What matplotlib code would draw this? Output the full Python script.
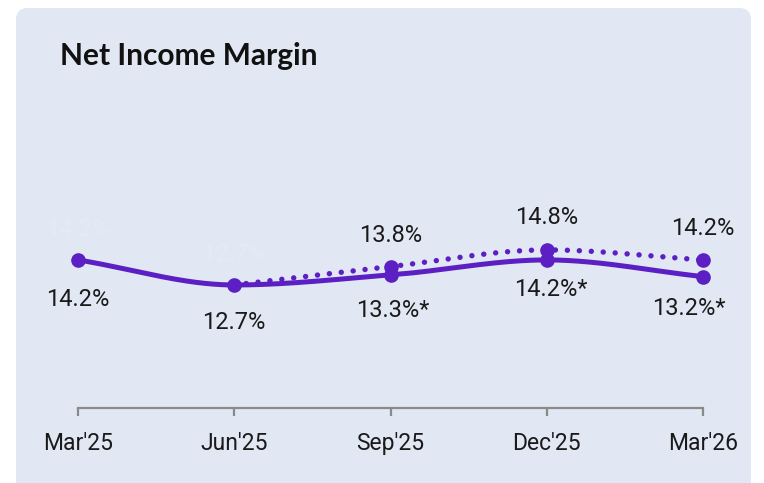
import numpy as np
import matplotlib
matplotlib.use("Agg")
import matplotlib.pyplot as plt
from matplotlib.patches import FancyBboxPatch

categories = ["Mar'25", "Jun'25", "Sep'25", "Dec'25", "Mar'26"]
actual = [14.2, 12.7, 13.3, 14.2, 13.2]
actual_labels = ["14.2%", "12.7%", "13.3%*", "14.2%*", "13.2%*"]
reported = [14.2, 12.7, 13.8, 14.8, 14.2]
reported_labels = ["14.2%", "12.7%", "13.8%", "14.8%", "14.2%"]
title = "Net Income Margin"

PURPLE = "#5B1FC4"
BG = "#E1E7F3"

W, H = 764, 483
fig = plt.figure(figsize=(W / 100, H / 100), dpi=100)
fig.patch.set_facecolor("white")

panel = FancyBboxPatch((16 / W, -0.1), (751 - 16) / W, 1.1 - 8 / H,
                       boxstyle="round,pad=0,rounding_size=0.015",
                       transform=fig.transFigure, facecolor=BG, edgecolor="none",
                       mutation_aspect=W / H, zorder=-10)
fig.patches.append(panel)

fig.text(60 / W, 1 - 56 / H, title, fontsize=21.5, fontweight="bold",
         family=["Lato", "DejaVu Sans"], color="#111111", va="center", ha="left",
         zorder=5)

# axes placement: x from 78 to 703 px, y from 100 to 408 px
ax = fig.add_axes([78 / W, 1 - 408 / H, (703 - 78) / W, (408 - 100) / H], zorder=2)
ax.set_facecolor("none")
ax.set_xlim(0, len(categories) - 1)
ax.set_ylim(5.33, 23.78)
ax.patch.set_alpha(0)


def monotone(xs, ys, n=200):
    xs = np.asarray(xs, float)
    ys = np.asarray(ys, float)
    h = np.diff(xs)
    d = np.diff(ys) / h
    m = np.zeros_like(ys)
    m[0], m[-1] = d[0], d[-1]
    for i in range(1, len(ys) - 1):
        if d[i - 1] * d[i] <= 0:
            m[i] = 0
        else:
            m[i] = 2 / (1 / d[i - 1] + 1 / d[i])
    X, Y = [], []
    for i in range(len(xs) - 1):
        t = np.linspace(0, 1, n)
        h00 = 2 * t**3 - 3 * t**2 + 1
        h10 = t**3 - 2 * t**2 + t
        h01 = -2 * t**3 + 3 * t**2
        h11 = t**3 - t**2
        X.append(xs[i] + t * h[i])
        Y.append(h00 * ys[i] + h10 * h[i] * m[i] + h01 * ys[i + 1] + h11 * h[i] * m[i + 1])
    return np.concatenate(X), np.concatenate(Y)


x = np.arange(len(categories))

# reported (dotted) series, drawn beneath
rx, ry = monotone(x[1:], reported[1:])
ax.plot(rx, ry, color=PURPLE, lw=3.9, linestyle=(0, (0.01, 2.2)),
        dash_capstyle="round", solid_capstyle="round", zorder=2, clip_on=False)
ax.plot(x[2:], reported[2:], "o", color=PURPLE, ms=9.5, zorder=3, clip_on=False)

# actual (solid) series
sx, sy = monotone(x, actual)
ax.plot(sx, sy, color=PURPLE, lw=3.6, solid_capstyle="round", zorder=4, clip_on=False)
ax.plot(x, actual, "o", color=PURPLE, ms=9.5, zorder=5, clip_on=False)

lab_font = dict(fontsize=17, family=["Roboto", "DejaVu Sans"], color="#1a1a1a")
below_off = [-40, -38, -36, -30, -32]
below_dx = [0, 0, 2, 4, -14]
for i, (v, t) in enumerate(zip(actual, actual_labels)):
    ax.annotate(t, (i, v), xytext=(below_dx[i], below_off[i]), textcoords="offset pixels",
                ha="center", va="center", **lab_font)

above_off = [30, 30, 31, 32, 31]
for i, (v, t) in enumerate(zip(reported, reported_labels)):
    kw = dict(lab_font)
    if i < 2:
        kw["color"] = "#E4EAF6"
    ax.annotate(t, (i, v), xytext=(0, above_off[i]), textcoords="offset pixels",
                ha="center", va="center", zorder=1 if i < 2 else 6, **kw)

for s in ["top", "right", "left"]:
    ax.spines[s].set_visible(False)
ax.spines["bottom"].set_color("#8a8a8a")
ax.spines["bottom"].set_linewidth(1.6)
ax.set_yticks([])
ax.set_xticks(x)
ax.set_xticklabels(categories)
ax.tick_params(axis="x", length=6, width=1.6, color="#8a8a8a", pad=11,
               labelsize=16.5, labelcolor="#1a1a1a")
for lbl in ax.get_xticklabels():
    lbl.set_family(["Roboto", "DejaVu Sans"])

fig.savefig("out.png", dpi=100, facecolor=fig.get_facecolor())
